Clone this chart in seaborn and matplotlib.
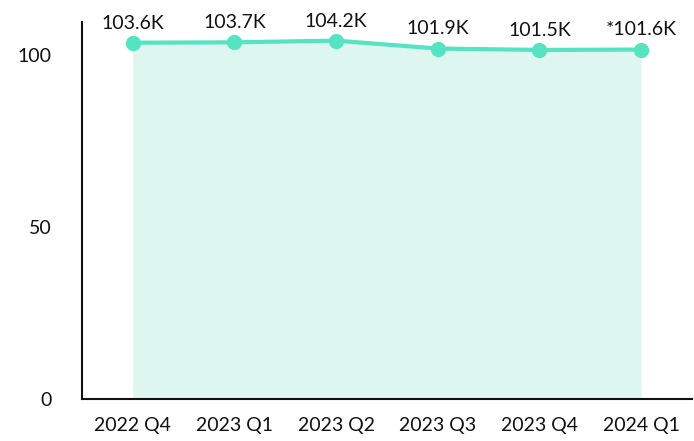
import numpy as np
import pandas as pd
import seaborn as sns
import matplotlib.pyplot as plt

quarters = ["2022 Q4", "2023 Q1", "2023 Q2", "2023 Q3", "2023 Q4", "2024 Q1"]
values = [103.6, 103.7, 104.2, 101.9, 101.5, 101.6]
labels = ["103.6K", "103.7K", "104.2K", "101.9K", "101.5K", "*101.6K"]

df = pd.DataFrame({"quarter": quarters, "value": values})
df["x"] = np.arange(len(df))

sns.set_style("white")
plt.rcParams["font.family"] = ["Lato", "DejaVu Sans"]

line_color = "#55e3c2"
fill_color = "#ddf7f0"

fig = plt.figure(figsize=(6.94, 4.41), dpi=100)
ax = fig.add_axes([0.118, 0.095, 0.879, 0.855])

ax.fill_between(df["x"], df["value"], 0, color=fill_color, linewidth=0)
sns.lineplot(data=df, x="x", y="value", ax=ax, color=line_color,
             linewidth=3, marker="o", markersize=11, markeredgewidth=0)

for x, v, lab in zip(df["x"], df["value"], labels):
    ax.annotate(lab, (x, v), xytext=(0, 8), textcoords="offset points",
                ha="center", va="bottom", fontsize=14, color="#111111")

ax.set_xlim(-0.5, 5.5)
ax.set_ylim(0, 109.6)
ax.set_xticks(df["x"])
ax.set_xticklabels(quarters)
ax.set_yticks([0, 50, 100])
ax.set_xlabel("")
ax.set_ylabel("")
ax.tick_params(axis="both", length=0, labelsize=14, colors="#111111")
ax.tick_params(axis="x", pad=13)
ax.tick_params(axis="y", pad=22)

sns.despine(ax=ax)
for side in ["left", "bottom"]:
    ax.spines[side].set_color("#111111")
    ax.spines[side].set_linewidth(1.5)

fig.savefig("out.png", dpi=100)
